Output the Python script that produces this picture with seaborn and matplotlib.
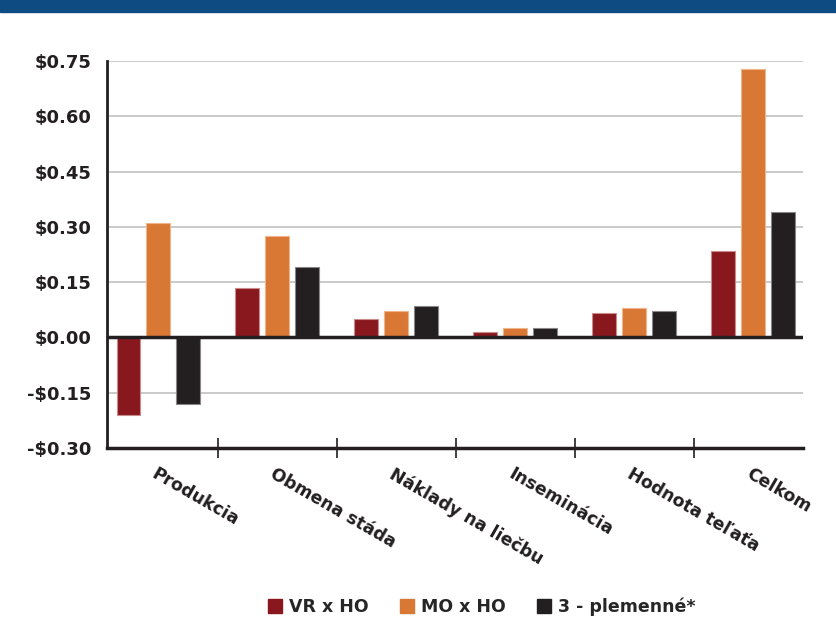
import matplotlib
matplotlib.use("Agg")
import matplotlib.pyplot as plt
import matplotlib.transforms as mtransforms
from matplotlib.lines import Line2D
from matplotlib.patches import Rectangle
import seaborn as sns
import pandas as pd

categories = ["Produkcia", "Obmena stáda", "Náklady na liečbu",
              "Inseminácia", "Hodnota teľaťa", "Celkom"]
series_names = ["VR x HO", "MO x HO", "3 - plemenné*"]
vr_ho = [-0.21, 0.134, 0.05, 0.015, 0.065, 0.235]
mo_ho = [0.311, 0.275, 0.073, 0.026, 0.081, 0.728]
three_breed = [-0.18, 0.191, 0.084, 0.025, 0.073, 0.34]
y_ticks = [-0.30, -0.15, 0.00, 0.15, 0.30, 0.45, 0.60, 0.75]
y_tick_labels = ["-$0.30", "-$0.15", "$0.00", "$0.15", "$0.30", "$0.45", "$0.60", "$0.75"]

colors = ["#88181D", "#D97735", "#231F20"]
edge_colors = ["#C98A8C", "#F0B48A", "#8A8687"]

rows = []
for name, vals in zip(series_names, [vr_ho, mo_ho, three_breed]):
    for c, v in zip(categories, vals):
        rows.append({"cat": c, "series": name, "value": v})
df = pd.DataFrame(rows)

sns.set_style("white")
plt.rcParams["font.family"] = ["DejaVu Sans"]
plt.rcParams["font.weight"] = "bold"

fig = plt.figure(figsize=(8.37, 6.43), dpi=100)
ax = fig.add_axes([107 / 837, 1 - 448 / 643, (803 - 107) / 837, (448 - 61) / 643])

sns.barplot(data=df, x="cat", y="value", hue="series", order=categories,
            hue_order=series_names, palette=dict(zip(series_names, colors)),
            width=0.75, gap=0.2, errorbar=None, saturation=1, ax=ax,
            legend=False, zorder=3)

for cont, ec in zip(ax.containers, edge_colors):
    for p in cont:
        p.set_edgecolor(ec)
        p.set_linewidth(0.8)

ax.set_ylim(-0.30, 0.75)
ax.set_xlim(-0.43, 5.42)
ax.set_yticks(y_ticks)
ax.set_yticklabels(y_tick_labels, fontsize=13, fontweight="bold", color="#231F20")
ax.tick_params(axis="y", length=0, pad=11)

for t in y_ticks[1:]:
    if t != 0:
        ax.axhline(t, color="#C6C6C6", lw=1.3, zorder=1)
ax.axhline(0, color="#231F20", lw=2.5, zorder=4)

ax.set_xticks(range(len(categories)))
ax.set_xticklabels(categories, rotation=-30, ha="left", va="top",
                   rotation_mode="anchor", fontsize=12.5, fontweight="bold",
                   color="#231F20")
ax.tick_params(axis="x", which="major", length=0, pad=12)
offset = mtransforms.ScaledTranslation(-1 / 100, 0, fig.dpi_scale_trans)
for lab in ax.get_xticklabels():
    lab.set_transform(lab.get_transform() + offset)

ax.set_xticks([i + 0.5 for i in range(len(categories) - 1)], minor=True)
ax.tick_params(axis="x", which="minor", bottom=True, direction="inout", length=14,
               width=1.2, color="#231F20")

ax.set_xlabel("")
ax.set_ylabel("")
for s in ["top", "right"]:
    ax.spines[s].set_visible(False)
ax.spines["left"].set_color("#231F20")
ax.spines["left"].set_linewidth(2)
ax.spines["bottom"].set_color("#231F20")
ax.spines["bottom"].set_linewidth(2.5)
ax.grid(False)

# top banner
fig.patches.append(Rectangle((0, 1 - 12 / 643), 1, 12 / 643, transform=fig.transFigure,
                             color="#0E4B82", zorder=0))

handles = [Line2D([0], [0], marker="s", linestyle="none", markersize=10.5,
                  markerfacecolor=c, markeredgecolor=c) for c in colors]
fig.legend(handles, series_names, loc="center", bbox_to_anchor=(482 / 837, 1 - 607 / 643),
           ncol=3, frameon=False, handlelength=0.8, handletextpad=0.4,
           columnspacing=1.8, prop={"size": 12.5, "weight": "bold"})

fig.savefig("out.png", dpi=100)
